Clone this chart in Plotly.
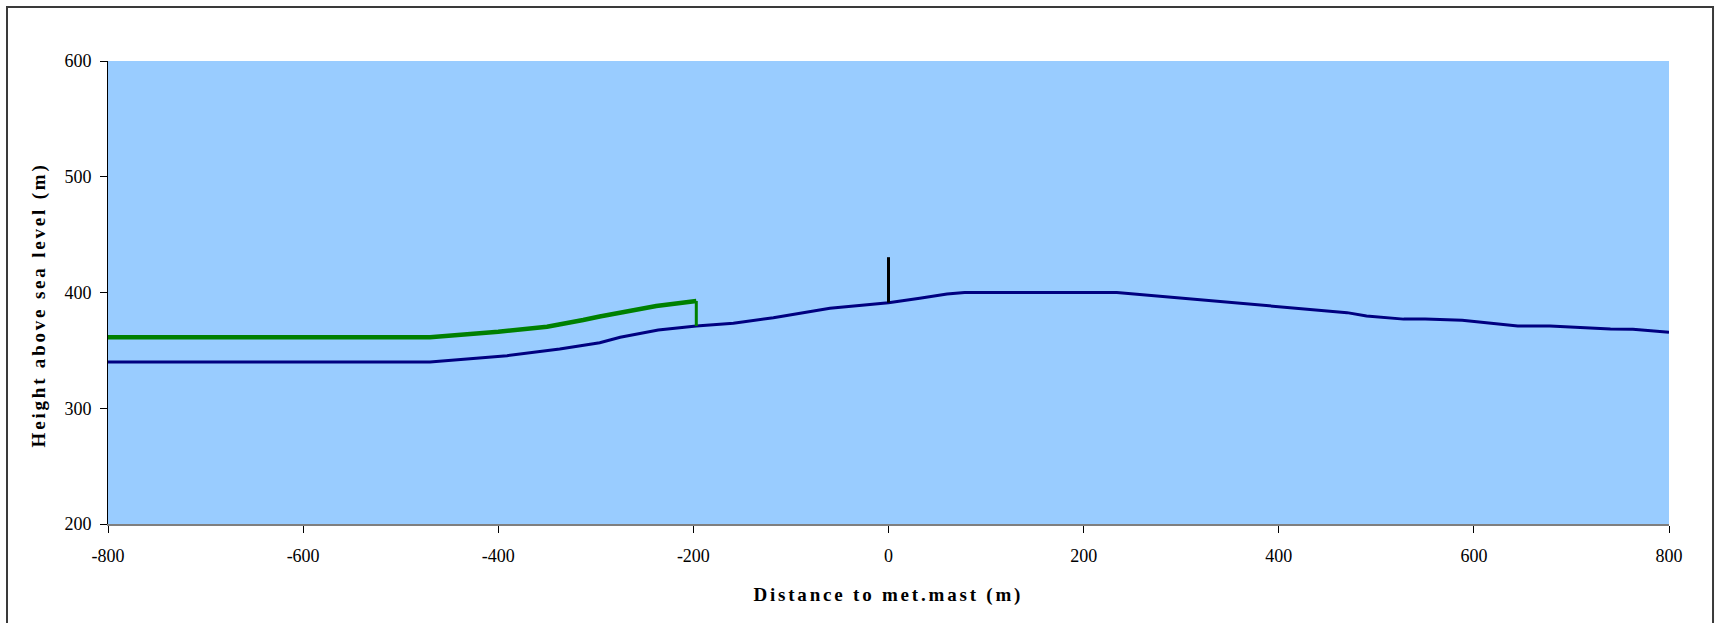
import plotly.graph_objects as go

# Terrain profile (blue)
terrain_x = [-800, -470, -391, -355, -337, -296, -275, -236, -197, -159, -118, -60, 0, 32, 60, 78, 234, 470, 490, 528, 550, 588, 645, 678, 740, 763, 800]
terrain_y = [340, 340, 345.4, 349.5, 351.2, 356.6, 361.3, 367.6, 371.1, 373.4, 378.2, 386.4, 391.2, 395, 398.7, 400, 400, 382.6, 379.7, 377, 377, 376, 371.1, 371, 368.5, 368.3, 365.6]

# Green profile with closing edge
green_x = [-800, -470, -400, -350, -313, -296, -238, -197]
green_y = [361.3, 361.3, 366, 370.5, 376.2, 379.3, 388.3, 392.7]
green_edge_x = [-197, -197]
green_edge_y = [392.7, 371.1]

# Met mast
mast_x = [0, 0]
mast_y = [391.2, 430.5]

x_ticks = [-800, -600, -400, -200, 0, 200, 400, 600, 800]
y_ticks = [200, 300, 400, 500, 600]

fig = go.Figure()
fig.add_trace(go.Scatter(x=terrain_x, y=terrain_y, mode="lines",
                         line=dict(color="#000080", width=3), hoverinfo="skip"))
fig.add_trace(go.Scatter(x=green_x, y=green_y, mode="lines",
                         line=dict(color="#008000", width=4.5), hoverinfo="skip"))
fig.add_trace(go.Scatter(x=green_edge_x, y=green_edge_y, mode="lines",
                         line=dict(color="#008000", width=3), hoverinfo="skip"))
fig.add_trace(go.Scatter(x=mast_x, y=mast_y, mode="lines",
                         line=dict(color="#000000", width=3), hoverinfo="skip"))

serif = "Liberation Serif, Times New Roman, serif"
tick_font = dict(family=serif, size=18, color="#000000")
title_font = dict(family=serif, size=19, color="#000000", weight="bold")

fig.update_layout(
    width=1718, height=623,
    margin=dict(l=108, r=49, t=61, b=99),
    paper_bgcolor="#FFFFFF",
    plot_bgcolor="#99CCFF",
    showlegend=False,
    hovermode=False,
    font=dict(family=serif),
    xaxis=dict(range=[-800, 800], tickvals=x_ticks, ticktext=[str(v) for v in x_ticks],
               ticks="outside", ticklen=7, tickcolor="#000000", tickwidth=1,
               ticklabelstandoff=7,
               showline=True, linecolor="#7f7f7f", linewidth=2,
               showgrid=False, zeroline=False, tickfont=tick_font, fixedrange=True),
    yaxis=dict(range=[200, 600], tickvals=y_ticks, ticktext=[str(v) for v in y_ticks],
               ticks="outside", ticklen=7, tickcolor="#000000", tickwidth=1,
               ticklabelstandoff=5,
               showline=True, linecolor="#000000", linewidth=1,
               showgrid=False, zeroline=False, tickfont=tick_font, fixedrange=True),
    annotations=[
        dict(text="Distance to met.mast (m)", xref="paper", yref="paper",
             x=0.5, y=-0.153, xanchor="center", yanchor="middle",
             showarrow=False, font=title_font),
        dict(text="Height above sea level (m)", xref="paper", yref="paper",
             x=-0.0442, y=0.473, xanchor="center", yanchor="middle",
             textangle=-90, showarrow=False, font=title_font),
    ],
    shapes=[
        dict(type="rect", xref="paper", yref="paper",
             x0=-0.0647, x1=1.0282, y0=-0.35, y1=1.1166,
             line=dict(color="#3a3a3a", width=2), fillcolor="rgba(0,0,0,0)", layer="above"),
    ],
)

post = """
document.querySelectorAll('.annotation-text').forEach(function(t){ t.style.letterSpacing='2.8px'; });
"""
fig.write_html("out.html", config={"displayModeBar": False, "staticPlot": True}, post_script=post)
